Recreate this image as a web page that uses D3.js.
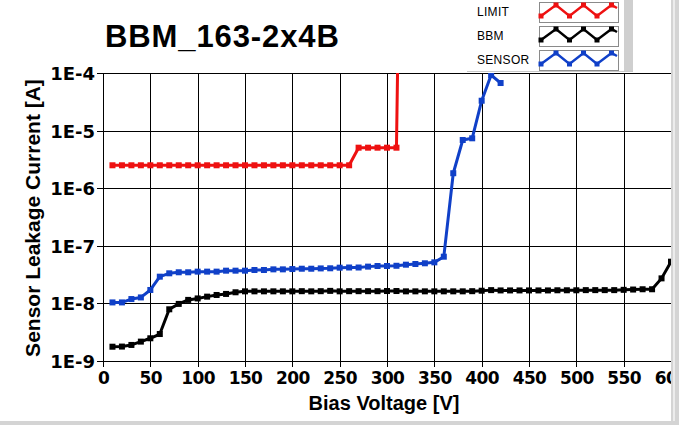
<!DOCTYPE html>
<html>
<head>
<meta charset="utf-8">
<script src="https://cdn.jsdelivr.net/npm/d3@7"></script>
<style>
  html, body { margin: 0; padding: 0; background: #fff; }
  svg { display: block; }
  .tick text { font-family: "DejaVu Sans", sans-serif; font-weight: bold; font-size: 18px; fill: #000; }
  .xaxis .tick text { font-size: 17px; letter-spacing: -0.6px; }
  .grid line { stroke: #000; stroke-width: 1; shape-rendering: crispEdges; }
  .grid path { display: none; }
</style>
</head>
<body>
<svg id="chart" width="679" height="425"></svg>
<script>
// bias voltage steps [V]
const bbmVolt = [10,20,30,40,50,60,70,80,90,100,110,120,130,140,150,160,170,180,190,200,
  210,220,230,240,250,260,270,280,290,300,310,320,330,340,350,360,370,380,390,400,
  410,420,430,440,450,460,470,480,490,500,510,520,530,540,550,560,570,580,590,600];
// BBM leakage current [A]
const bbmCurr = [1.77e-9,1.78e-9,1.9e-9,2.17e-9,2.48e-9,2.94e-9,7.9e-9,9.8e-9,1.15e-8,1.22e-8,
  1.31e-8,1.40e-8,1.46e-8,1.56e-8,1.62e-8,1.62e-8,1.62e-8,1.62e-8,1.62e-8,1.62e-8,
  1.63e-8,1.62e-8,1.63e-8,1.65e-8,1.62e-8,1.63e-8,1.63e-8,1.63e-8,1.63e-8,1.64e-8,
  1.64e-8,1.62e-8,1.62e-8,1.62e-8,1.62e-8,1.62e-8,1.62e-8,1.62e-8,1.63e-8,1.66e-8,
  1.70e-8,1.68e-8,1.68e-8,1.68e-8,1.68e-8,1.68e-8,1.68e-8,1.69e-8,1.69e-8,1.69e-8,
  1.70e-8,1.70e-8,1.70e-8,1.70e-8,1.72e-8,1.74e-8,1.76e-8,1.76e-8,2.72e-8,5.3e-8];

const sensorVolt = [10,20,30,40,50,60,70,80,90,100,110,120,130,140,150,160,170,180,190,200,
  210,220,230,240,250,260,270,280,290,300,310,320,330,340,350,360,370,380,390,400,410,420];
const sensorCurr = [1.04e-8,1.04e-8,1.19e-8,1.27e-8,1.71e-8,2.91e-8,3.33e-8,3.47e-8,3.47e-8,3.56e-8,
  3.56e-8,3.56e-8,3.7e-8,3.7e-8,3.7e-8,3.8e-8,3.8e-8,3.9e-8,3.9e-8,3.95e-8,
  4.0e-8,4.0e-8,4.05e-8,4.07e-8,4.17e-8,4.2e-8,4.2e-8,4.35e-8,4.46e-8,4.46e-8,
  4.5e-8,4.7e-8,4.83e-8,4.97e-8,5.16e-8,6.47e-8,1.82e-6,6.87e-6,7.35e-6,3.3e-5,9.2e-5,6.7e-5];

const limitVolt = [10,20,30,40,50,60,70,80,90,100,110,120,130,140,150,160,170,180,190,200,
  210,220,230,240,250,260,270,280,290,300,310,312];
const limitCurr = [2.5e-6,2.5e-6,2.5e-6,2.5e-6,2.5e-6,2.5e-6,2.5e-6,2.5e-6,2.5e-6,2.5e-6,
  2.5e-6,2.5e-6,2.5e-6,2.5e-6,2.5e-6,2.5e-6,2.5e-6,2.5e-6,2.5e-6,2.5e-6,
  2.5e-6,2.5e-6,2.5e-6,2.5e-6,2.5e-6,2.5e-6,5.05e-6,5.05e-6,5.05e-6,5.05e-6,5.05e-6,1e-3];

const xTicks = [0,50,100,150,200,250,300,350,400,450,500,550,600];
const yTicks = [1e-9,1e-8,1e-7,1e-6,1e-5,1e-4];
const seriesNames = ["LIMIT","BBM","SENSOR"];
const seriesColors = ["#ee1111","#000000","#1040c8"];

const svg = d3.select("#chart");
const pLeft = 103, pRight = 671, pTop = 73, pBottom = 361;

const x = d3.scaleLinear().domain([0,600]).range([pLeft,pRight]);
const y = d3.scaleLog().domain([1e-9,1e-4]).range([pBottom,pTop]);

// grid
svg.append("g").attr("class","grid")
   .attr("transform","translate(0,"+pBottom+")")
   .call(d3.axisBottom(x).tickValues(xTicks).tickSize(-(pBottom-pTop)).tickFormat(""));
svg.append("g").attr("class","grid")
   .attr("transform","translate("+pLeft+",0)")
   .call(d3.axisLeft(y).tickValues(yTicks).tickSize(-(pRight-pLeft)).tickFormat(""));

// axes
const xAxis = svg.append("g").attr("class","xaxis")
   .attr("transform","translate(0,"+pBottom+")")
   .call(d3.axisBottom(x).tickValues(xTicks).tickSize(6).tickPadding(5).tickFormat(d3.format("d")));
const yAxis = svg.append("g")
   .attr("transform","translate("+pLeft+",0)")
   .call(d3.axisLeft(y).tickValues(yTicks).tickSize(6).tickPadding(2)
     .tickFormat(function(d){ return "1E" + Math.round(Math.log10(d)); }));
[xAxis, yAxis].forEach(function(a){
  a.select(".domain").attr("stroke","#000").attr("shape-rendering","crispEdges");
  a.selectAll(".tick line").attr("stroke","#000").attr("shape-rendering","crispEdges");
});
yAxis.selectAll(".tick text").attr("dy","0.36em");

// clip for data
svg.append("clipPath").attr("id","plotclip").append("rect")
   .attr("x",pLeft-4).attr("y",pTop).attr("width",pRight-pLeft+8).attr("height",pBottom-pTop+4);

const line = d3.line().x(function(d){ return x(d[0]); }).y(function(d){ return y(d[1]); });
const sets = [
  d3.zip(limitVolt, limitCurr),
  d3.zip(bbmVolt, bbmCurr),
  d3.zip(sensorVolt, sensorCurr)
];
const plot = svg.append("g").attr("clip-path","url(#plotclip)");
sets.forEach(function(data, i){
  plot.append("path").datum(data)
     .attr("fill","none").attr("stroke",seriesColors[i]).attr("stroke-width",3)
     .attr("stroke-linejoin","round")
     .attr("d",line);
  plot.selectAll(null).data(data).enter().append("rect")
     .attr("x",function(d){ return x(d[0])-3; })
     .attr("y",function(d){ return y(d[1])-3; })
     .attr("width",6).attr("height",6)
     .attr("fill",seriesColors[i]);
});

// title
svg.append("text").attr("x",105).attr("y",47)
   .attr("font-family","Liberation Sans, Arial, sans-serif").attr("font-weight","bold")
   .attr("font-size",31).attr("letter-spacing",0.9)
   .text("BBM_163-2x4B");

// axis titles
svg.append("text").attr("x",384).attr("y",410).attr("text-anchor","middle")
   .attr("font-family","Liberation Sans, Arial, sans-serif").attr("font-weight","bold")
   .attr("font-size",20).text("Bias Voltage [V]");
svg.append("text").attr("transform","translate(40,218) rotate(-90)").attr("text-anchor","middle")
   .attr("font-family","Liberation Sans, Arial, sans-serif").attr("font-weight","bold")
   .attr("font-size",21).text("Sensor Leakage Current [A]");

// legend panel
const lg = svg.append("g");
lg.append("rect").attr("x",467).attr("y",0).attr("width",160).attr("height",71).attr("fill","#fff");
lg.append("rect").attr("x",624).attr("y",0).attr("width",9).attr("height",71).attr("fill","#cfcfcf");
lg.append("line").attr("x1",467).attr("x2",633).attr("y1",71.5).attr("y2",71.5).attr("stroke","#c8c8c8");
seriesNames.forEach(function(name, i){
  const by = 2 + i*24;
  lg.append("text").attr("x",477).attr("y",by+14)
    .attr("font-family","Liberation Sans, Arial, sans-serif").attr("font-size",12)
    .attr("letter-spacing",0.3).text(name);
  lg.append("rect").attr("x",539.5).attr("y",by+0.5).attr("width",79).attr("height",20)
    .attr("fill","#fff").attr("stroke","#8a8a8a");
  const pts = [[541,by+14],[556,by+3],[569.5,by+14],[583.5,by+3],[597,by+14],[611.5,by+3],[617,by+6]];
  lg.append("path").attr("d",d3.line()(pts)).attr("fill","none")
    .attr("stroke",seriesColors[i]).attr("stroke-width",2.5);
  lg.selectAll(null).data(pts.slice(0,6)).enter().append("rect")
    .attr("x",function(p){ return p[0]-2.5; }).attr("y",function(p){ return p[1]-2.5; })
    .attr("width",5).attr("height",5).attr("fill",seriesColors[i]);
});

// window frame on the right and bottom
svg.append("rect").attr("x",671).attr("y",0).attr("width",8).attr("height",425).attr("fill","#d4d4d4");
svg.append("rect").attr("x",673).attr("y",0).attr("width",2).attr("height",425).attr("fill","#ececec");
svg.append("rect").attr("x",0).attr("y",421).attr("width",679).attr("height",4).attr("fill","#d4d4d4");
</script>
</body>
</html>
